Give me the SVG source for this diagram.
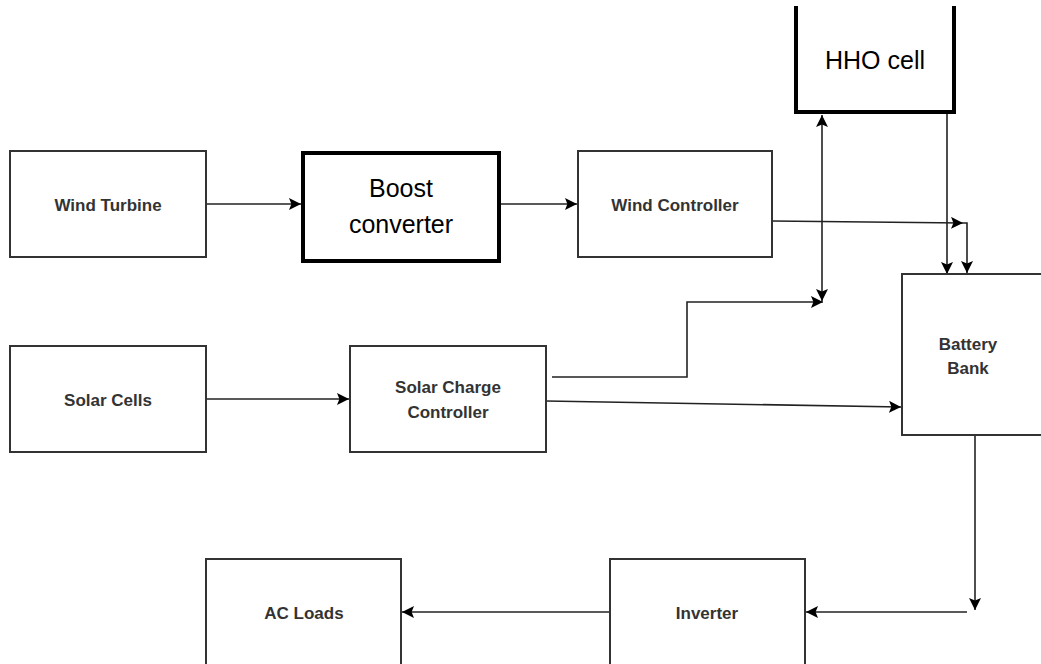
<svg xmlns="http://www.w3.org/2000/svg" width="1041" height="664" viewBox="0 0 1041 664">
<style>
.box{fill:#fff;stroke:#333;stroke-width:2}
.thick{fill:#fff;stroke:#000;stroke-width:4}
.lbl{font-family:"Liberation Sans",Arial,sans-serif;font-weight:bold;font-size:17px;fill:#333;text-anchor:middle}
.big{font-family:"Liberation Sans",Arial,sans-serif;font-size:25px;fill:#000;text-anchor:middle}
.ln{fill:none;stroke:#222;stroke-width:1.6}
</style>
<defs>
<marker id="ah" viewBox="0 0 10 10" refX="10" refY="5" markerWidth="12" markerHeight="12" markerUnits="userSpaceOnUse" orient="auto">
<path d="M0,0 L10,5 L0,10 L2,5 z" fill="#000"/>
</marker>
<marker id="ahs" viewBox="0 0 10 10" refX="0" refY="5" markerWidth="12" markerHeight="12" markerUnits="userSpaceOnUse" orient="auto">
<path d="M10,0 L0,5 L10,10 L8,5 z" fill="#000"/>
</marker>
</defs>
<rect width="1041" height="664" fill="#fff"/>
<g id="connectors">
<line class="ln" x1="206" y1="204" x2="301" y2="204" marker-end="url(#ah)"/>
<line class="ln" x1="500" y1="204" x2="577" y2="204" stroke-width="2.5" marker-end="url(#ah)"/>
<line class="ln" x1="772" y1="221" x2="963" y2="223" marker-end="url(#ah)"/>
<polyline class="ln" points="963,223 967,223 967,273" marker-end="url(#ah)"/>
<line class="ln" x1="947" y1="114" x2="947" y2="274" marker-end="url(#ah)"/>
<line class="ln" x1="822" y1="115" x2="822" y2="301" marker-start="url(#ahs)" marker-end="url(#ah)"/>
<polyline class="ln" points="552,377 687,377 687,302 823,302" marker-end="url(#ah)"/>
<line class="ln" x1="206" y1="399" x2="349" y2="399" marker-end="url(#ah)"/>
<line class="ln" x1="546" y1="401" x2="901" y2="407" marker-end="url(#ah)"/>
<line class="ln" x1="975" y1="435" x2="975" y2="610" marker-end="url(#ah)"/>
<line class="ln" x1="967" y1="612" x2="806" y2="612" marker-end="url(#ah)"/>
<line class="ln" x1="610" y1="612" x2="402" y2="612" marker-end="url(#ah)"/>
</g>
<g id="wind-turbine"><rect class="box" x="10" y="151" width="196" height="106"/><text class="lbl" x="108" y="211">Wind Turbine</text></g>
<g id="boost-converter"><rect class="thick" x="303" y="153" width="196" height="108"/><text class="big" x="401" y="197">Boost</text><text class="big" x="401" y="233">converter</text></g>
<g id="wind-controller"><rect class="box" x="578" y="151" width="194" height="106"/><text class="lbl" x="675" y="211">Wind Controller</text></g>
<g id="hho-cell"><path class="thick" d="M796,6 V112 H954 V6"/><text class="big" x="875" y="69">HHO cell</text></g>
<g id="battery-bank"><rect class="box" x="902" y="274" width="145" height="161"/><text class="lbl" x="968" y="350">Battery</text><text class="lbl" x="968" y="374">Bank</text></g>
<g id="solar-cells"><rect class="box" x="10" y="346" width="196" height="106"/><text class="lbl" x="108" y="406">Solar Cells</text></g>
<g id="solar-charge-controller"><rect class="box" x="350" y="346" width="196" height="106"/><text class="lbl" x="448" y="393">Solar Charge</text><text class="lbl" x="448" y="418">Controller</text></g>
<g id="ac-loads"><rect class="box" x="206" y="559" width="195" height="110"/><text class="lbl" x="304" y="619">AC Loads</text></g>
<g id="inverter"><rect class="box" x="610" y="559" width="195" height="110"/><text class="lbl" x="707" y="619">Inverter</text></g>
</svg>
